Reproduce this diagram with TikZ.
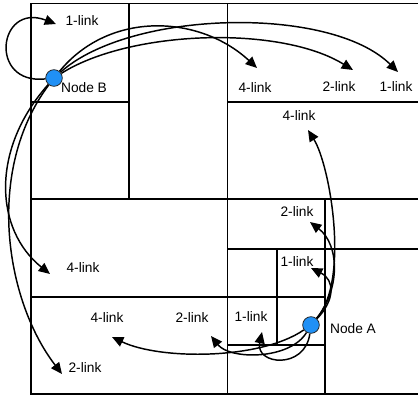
\documentclass[tikz,border=0pt]{standalone}
\usepackage{fontspec}
\setmainfont{Liberation Sans}
\usetikzlibrary{arrows.meta}
\definecolor{NodeBlue}{HTML}{2090F5}

\begin{document}
\begin{tikzpicture}[x=0.75pt, y=-0.75pt,
  wall/.style={line width=1.1pt},
  vertex/.style={circle, draw=black!85, line width=0.6pt, fill=NodeBlue,
     minimum size=12.5pt, inner sep=0pt},
  lbl/.style={font=\fontsize{10.3}{12}\selectfont, inner sep=0pt},
  link/.style={-{Triangle[length=8.5pt, width=7.5pt]}, line width=1.1pt}]
  \useasboundingbox (0,0) rectangle (418,397);
  % cells
  \draw[wall] (418,3.5) -- (31,3.5) -- (31,394) -- (418,394);
  \draw[wall] (129,3.5) -- (129,199);
  \draw[wall] (31,102) -- (129,102);
  \draw[wall] (227.5,3.5) -- (227.5,394);
  \draw[wall] (227.5,102) -- (418,102);
  \draw[wall] (31,199) -- (418,199);
  \draw[wall] (31,297) -- (325,297);
  \draw[wall] (325,199) -- (325,394);
  \draw[wall] (227.5,249) -- (418,249);
  \draw[wall] (277,249) -- (277,345);
  \draw[wall] (227.5,345) -- (325,345);
  % nodes and labels
  \node[vertex] (B) at (54,78) {};
  \node[vertex] (A) at (311,325) {};
  \node[lbl] (nB) at (84,88) {Node B};
  \node[lbl] (nA) at (353,329) {Node A};
  \node[lbl] (b1) at (82,21) {1-link};
  \node[lbl] (b4r) at (255,88) {4-link};
  \node[lbl] (b2r) at (339,87) {2-link};
  \node[lbl] (b1r) at (396,87) {1-link};
  \node[lbl] (b4d) at (83,268) {4-link};
  \node[lbl] (b2d) at (85,368) {2-link};
  \node[lbl] (a4u) at (299,116) {4-link};
  \node[lbl] (a2u) at (297,212) {2-link};
  \node[lbl] (a1u) at (297,262) {1-link};
  \node[lbl] (a1l) at (251,317) {1-link};
  \node[lbl] (a2l) at (192,318) {2-link};
  \node[lbl] (a4l) at (107,318) {4-link};
  % arrow ends
  \coordinate (tb1) at (56,24);
  \coordinate (tb4r) at (257,68);
  \coordinate (tb2r) at (353,70);
  \coordinate (tb1r) at (398,72);
  \coordinate (tb4d) at (50,274);
  \coordinate (tb2d) at (62,374);
  \coordinate (ta4u) at (308,130);
  \coordinate (ta2u) at (310,222);
  \coordinate (ta1u) at (311,268);
  \coordinate (ta1l) at (262,332);
  \coordinate (ta2l) at (211,336);
  \coordinate (ta4l) at (112,337);
  % links of B
  \draw[link] (B) .. controls (-12,85) and (-2,2) .. (tb1);
  \draw[link] (B) .. controls (110,10) and (200,15) .. (tb4r);
  \draw[link] (B) .. controls (130,30) and (280,25) .. (tb2r);
  \draw[link] (B) .. controls (130,10) and (330,5) .. (tb1r);
  \draw[link] (B) .. controls (-10,150) and (-5,230) .. (tb4d);
  \draw[link] (B) .. controls (-15,170) and (5,300) .. (tb2d);
  % links of A
  \draw[link] (A) .. controls (350,280) and (330,165) .. (ta4u);
  \draw[link] (A) .. controls (340,290) and (340,245) .. (ta2u);
  \draw[link] (A) .. controls (335,300) and (335,280) .. (ta1u);
  \draw[link] (A) .. controls (305,370) and (255,365) .. (ta1l);
  \draw[link] (A) .. controls (290,360) and (230,360) .. (ta2l);
  \draw[link] (A) .. controls (260,360) and (160,360) .. (ta4l);
\end{tikzpicture}
\end{document}
